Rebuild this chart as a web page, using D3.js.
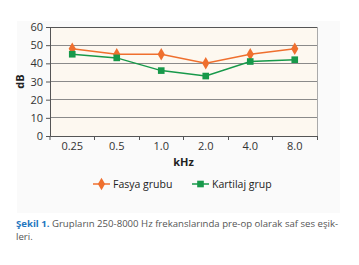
<!DOCTYPE html>
<html><head><meta charset="utf-8">
<script src="https://cdn.jsdelivr.net/npm/d3@7"></script>
<style>
body{margin:0;background:#fff;}
svg{display:block;font-family:"Open Sans",sans-serif;}
</style></head>
<body><svg id="c" width="359" height="265"></svg>
<script>
const categories = ["0.25","0.5","1.0","2.0","4.0","8.0"];
const fasya = [48,45,45,40,45,48];
const kartilaj = [45,43,36,33,41,42];
const yTicks = [0,10,20,30,40,50,60];
const seriesNames = ["Fasya grubu","Kartilaj grup"];
const colors = ["#ef6f2e","#17994a"];

const svg = d3.select("#c");
const m = {l:50, r:317, t:27, b:136};
svg.append("rect").attr("x",17).attr("y",21).attr("width",323).attr("height",192).attr("fill","#fafafa");
svg.append("rect").attr("x",m.l).attr("y",m.t).attr("width",m.r-m.l).attr("height",m.b-m.t).attr("fill","#fdf8f0");

const x = d3.scaleBand().domain(categories).range([m.l,m.r]);
const y = d3.scaleLinear().domain([0,60]).range([m.b,m.t]);

// gridlines
svg.append("g").selectAll("line").data(yTicks.filter(d=>d>0)).join("line")
 .attr("x1",m.l).attr("x2",m.r).attr("y1",d=>y(d)).attr("y2",d=>y(d))
 .attr("stroke",d=>d===60?"#555":"#8a8a8a").attr("stroke-width",1).attr("shape-rendering","crispEdges");
svg.append("line").attr("x1",m.r).attr("x2",m.r).attr("y1",m.t).attr("y2",m.b).attr("stroke","#aaa").attr("shape-rendering","crispEdges");

// y axis
const ya = svg.append("g").attr("transform",`translate(${m.l},0)`)
 .call(d3.axisLeft(y).tickValues(yTicks).tickSize(4).tickPadding(3));
ya.select(".domain").attr("stroke","#555");
ya.selectAll(".tick line").attr("stroke","#555");
ya.selectAll("text").attr("font-size","11px").attr("fill","#333").attr("font-family","Open Sans");

// x axis
const xa = svg.append("g").attr("transform",`translate(0,${m.b})`)
 .call(d3.axisBottom(x).tickSize(0).tickPadding(6));
xa.select(".domain").attr("stroke","#555");
xa.selectAll("text").attr("font-size","11px").attr("fill","#333").attr("font-family","Open Sans");
// tick marks at band boundaries
svg.append("g").selectAll("line").data(categories).join("line")
 .attr("x1",d=>x(d)+x.bandwidth()).attr("x2",d=>x(d)+x.bandwidth())
 .attr("y1",m.b).attr("y2",m.b+4).attr("stroke","#555").attr("shape-rendering","crispEdges");
svg.append("line").attr("x1",m.l).attr("x2",m.l).attr("y1",m.b).attr("y2",m.b+4).attr("stroke","#555");

// axis titles
svg.append("text").attr("transform",`translate(24,${(m.t+m.b)/2}) rotate(-90)`).attr("text-anchor","middle")
 .attr("font-size","11px").attr("font-weight","bold").attr("fill","#222").text("dB");
svg.append("text").attr("x",(m.l+m.r)/2).attr("y",166).attr("text-anchor","middle")
 .attr("font-size","11px").attr("font-weight","bold").attr("fill","#222").text("kHz");

const cx = d=>x(d)+x.bandwidth()/2;
const line = d3.line().x((d,i)=>cx(categories[i])).y(d=>y(d));
const diamond = d3.symbol().type(d3.symbolDiamond).size(45);
const square = d3.symbol().type(d3.symbolSquare).size(44);

[fasya,kartilaj].forEach((s,k)=>{
  svg.append("path").attr("d",line(s)).attr("fill","none").attr("stroke",colors[k]).attr("stroke-width",1.5);
  svg.append("g").selectAll("path").data(s).join("path")
   .attr("transform",(d,i)=>`translate(${cx(categories[i])},${y(d)})`)
   .attr("d",k===0?diamond():square()).attr("fill",colors[k]);
});

// legend
const lg = [[93,seriesNames[0]],[192,seriesNames[1]]];
lg.forEach(([lx,name],k)=>{
  svg.append("line").attr("x1",lx).attr("x2",lx+17).attr("y1",184).attr("y2",184).attr("stroke",colors[k]).attr("stroke-width",1.5);
  svg.append("path").attr("transform",`translate(${lx+8.5},184)`).attr("d",k===0?diamond():square()).attr("fill",colors[k]);
  svg.append("text").attr("x",lx+20).attr("y",188).attr("font-size","10.5px").attr("fill","#222").text(name);
});

// caption
const cap = svg.append("text").attr("x",16).attr("y",227).attr("font-size","9.6px").attr("fill","#555");
cap.append("tspan").attr("fill","#1f77c0").attr("font-weight","bold").text("Şekil 1.");
cap.append("tspan").text(" Grupların 250-8000 Hz frekanslarında pre-op olarak saf ses eşik-");
svg.append("text").attr("x",16).attr("y",240).attr("font-size","9.6px").attr("fill","#555").text("leri.");
</script></body></html>
